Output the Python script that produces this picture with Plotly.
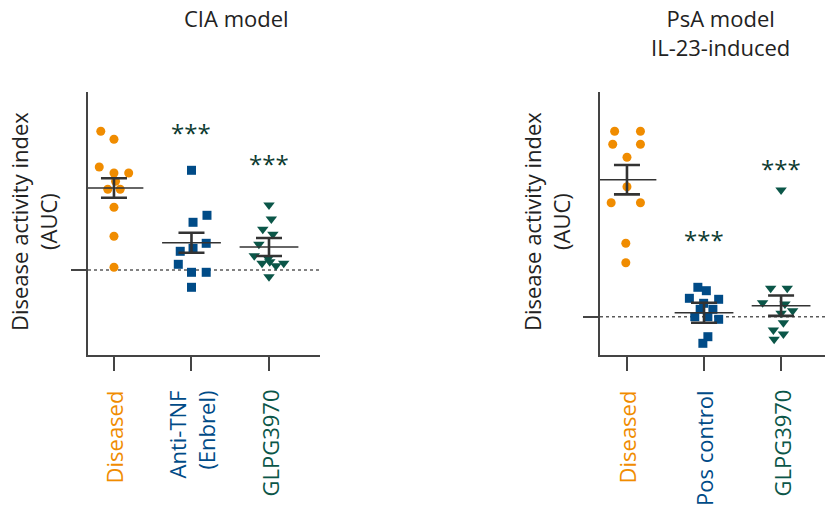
import plotly.graph_objects as go

# ---------------- data ----------------
cia_groups = ["Diseased", "Anti-TNF<br>(Enbrel)", "GLPG3970"]
psa_groups = ["Diseased", "Pos control", "GLPG3970"]

cia_diseased = [13.87, 13.07, 10.3, 9.7, 9.7, 8.87, 8.07, 8.07, 6.27, 3.37, 0.27]
cia_diseased_jit = [-0.17, 0.0, -0.19, 0.0, 0.19, 0.02, -0.08, 0.08, 0.0, 0.0, 0.0]
cia_antitnf = [9.97, 5.47, 4.77, 2.67, 2.17, 1.87, 0.57, -0.23, -0.23, -1.73]
cia_antitnf_jit = [0.0, 0.2, 0.02, 0.19, 0.02, -0.145, -0.17, 0.0, 0.19, 0.0]
cia_glpg = [6.5, 5.1, 4.07, 3.57, 2.57, 1.43, 1.17, 0.67, 0.83, 0.43, 0.67, -0.67]
cia_glpg_jit = [0.0, 0.03, -0.08, 0.05, -0.13, -0.19, -0.01, -0.09, 0.01, 0.09, 0.19, 0.0]
cia_mean = [8.2, 2.73, 2.3]
cia_sem = [0.98, 1.0, 0.9]

psa_diseased = [18.54, 18.54, 17.24, 17.24, 15.94, 13.0, 11.4, 11.4, 7.34, 5.4]
psa_diseased_jit = [-0.16, 0.175, -0.185, 0.175, 0.0, 0.0, -0.205, 0.175, -0.015, -0.015]
psa_pos = [2.94, 2.6, 1.84, 1.74, 1.34, 0.74, 0.74, 0.0, 0.0, -0.26, -2.0, -2.66]
psa_pos_jit = [-0.08, 0.03, -0.19, 0.19, -0.005, -0.05, 0.115, -0.12, 0.05, 0.19, 0.05, -0.015]
psa_glpg = [2.84, 2.84, 1.4, 1.27, 0.6, 0.34, -0.6, -1.33, -1.73, -2.26, 12.67]
psa_glpg_jit = [-0.135, 0.08, -0.24, 0.05, 0.15, 0.0, 0.03, -0.1, 0.03, -0.09, 0.0]
psa_mean = [13.7, 0.4, 1.1]
psa_sem = [1.47, 1.0, 1.02]

# significance labels: (group index, y value)
cia_sig = [(1, 14.33), (2, 11.23)]
psa_sig = [(1, 8.34), (2, 15.44)]

# ---------------- styles ----------------
ORANGE = "#F08C00"
BLUE = "#004B87"
GREEN = "#0B5648"
STAR = "#0C3A30"
AXIS = "#444444"
BAR = "#333333"
FONT = "Open Sans"
label_colors = [ORANGE, BLUE, GREEN]
symbols = ["circle", "square", "triangle-down"]
sizes = [9, 9, 10]

fig = go.Figure()

def add_panel(xa, ya, vals_list, jit_list, means, sems):
    for i, (vals, jit) in enumerate(zip(vals_list, jit_list)):
        fig.add_trace(go.Scatter(
            x=[i + j for j in jit], y=vals, mode="markers",
            marker=dict(symbol=symbols[i], size=sizes[i], color=label_colors[i],
                        line=dict(width=0)),
            xaxis=xa, yaxis=ya, showlegend=False, hoverinfo="y"))
    fig.add_trace(go.Scatter(
        x=list(range(len(means))), y=means, mode="markers",
        marker=dict(symbol="line-ew-open", size=42, color=BAR,
                    line=dict(width=1.6, color=BAR)),
        error_y=dict(type="data", array=sems, visible=True, color=BAR,
                     thickness=2.6, width=13),
        xaxis=xa, yaxis=ya, showlegend=False, hoverinfo="y"))

add_panel("x", "y", [cia_diseased, cia_antitnf, cia_glpg],
          [cia_diseased_jit, cia_antitnf_jit, cia_glpg_jit], cia_mean, cia_sem)
add_panel("x2", "y2", [psa_diseased, psa_pos, psa_glpg],
          [psa_diseased_jit, psa_pos_jit, psa_glpg_jit], psa_mean, psa_sem)

W, H = 825, 508
common_x = dict(showline=True, linecolor=AXIS, linewidth=2, ticks="outside",
                ticklen=14, tickwidth=2, tickcolor=AXIS, tickvals=[0, 1, 2],
                showticklabels=False, showgrid=False, zeroline=False,
                fixedrange=True)
common_y = dict(showline=True, linecolor=AXIS, linewidth=2, ticks="outside",
                ticklen=15, tickwidth=2, tickcolor=AXIS, tickvals=[0],
                showticklabels=False, showgrid=False, zeroline=False,
                domain=[1 - 355 / H, 1 - 92 / H], fixedrange=True)

fig.update_layout(
    width=W, height=H, margin=dict(l=0, r=0, t=0, b=0),
    paper_bgcolor="white", plot_bgcolor="white",
    font=dict(family=FONT, size=22, color="#222222"),
    xaxis=dict(common_x, domain=[88 / W, 320 / W], range=[-0.335, 2.658]),
    yaxis=dict(common_y, range=[-8.5, 17.8], anchor="x"),
    xaxis2=dict(common_x, domain=[600 / W, 1.0], range=[-0.35, 2.57], anchor="y2"),
    yaxis2=dict(common_y, range=[-3.83, 22.47], anchor="x2"),
)

# dashed zero lines
for xr, yr in [("x domain", "y"), ("x2 domain", "y2")]:
    fig.add_shape(type="line", xref=xr, yref=yr, x0=0, x1=1, y0=0, y1=0,
                  line=dict(color="#5a5a5a", width=1.5, dash="dot"), layer="below")

ann = []
# titles
ann.append(dict(text="CIA model", x=236 / W, y=1 - 18 / H, xref="paper", yref="paper",
                xanchor="center", yanchor="middle", showarrow=False,
                font=dict(size=22, color="#222222")))
ann.append(dict(text="PsA model<br>IL-23-induced", x=720 / W, y=1 - 32 / H,
                xref="paper", yref="paper", xanchor="center", yanchor="middle",
                showarrow=False, font=dict(size=22, color="#222222")))
# y-axis titles
for xc in [33, 546]:
    ann.append(dict(text="Disease activity index<br>(AUC)", x=xc / W, y=1 - 222 / H,
                    xref="paper", yref="paper", textangle=-90, showarrow=False,
                    xanchor="center", yanchor="middle",
                    font=dict(size=22, color="#222222")))
# category labels
for xa, groups in [("x", cia_groups), ("x2", psa_groups)]:
    for i, g in enumerate(groups):
        ann.append(dict(text=g, x=i, y=1 - 388 / H, xref=xa, yref="paper",
                        textangle=-90, showarrow=False, xanchor="center",
                        yanchor="top", align="right",
                        font=dict(size=22, color=label_colors[i])))
# significance stars
for xa, ya, sig in [("x", "y", cia_sig), ("x2", "y2", psa_sig)]:
    for gi, yv in sig:
        ann.append(dict(text="***", x=gi, y=yv, xref=xa, yref=ya, showarrow=False,
                        xanchor="center", yanchor="middle",
                        yshift=-6, font=dict(size=24, color=STAR)))
fig.update_layout(annotations=ann)

fig.write_html("out.html", config={"displayModeBar": False},
               post_script="document.body.style.margin='0px';")
